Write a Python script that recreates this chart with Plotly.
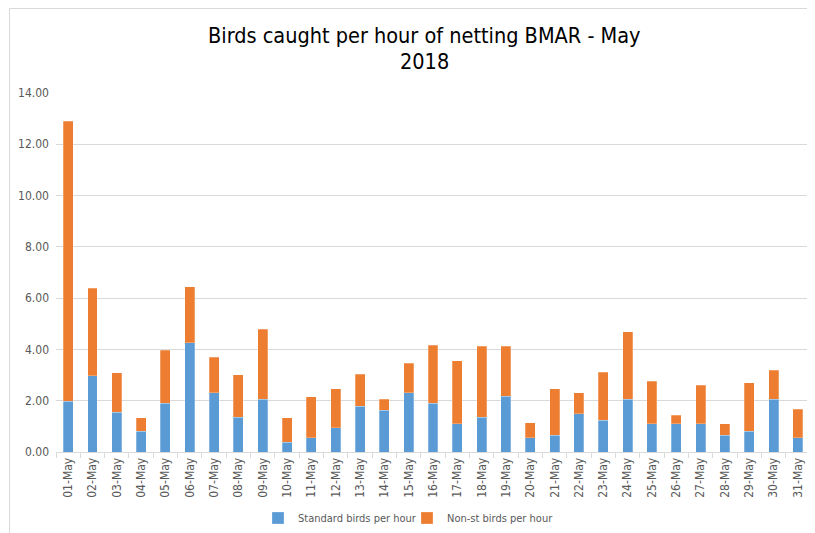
import plotly.graph_objects as go

days = ["01-May", "02-May", "03-May", "04-May", "05-May", "06-May", "07-May", "08-May",
        "09-May", "10-May", "11-May", "12-May", "13-May", "14-May", "15-May", "16-May",
        "17-May", "18-May", "19-May", "20-May", "21-May", "22-May", "23-May", "24-May",
        "25-May", "26-May", "27-May", "28-May", "29-May", "30-May", "31-May"]

standard = [1.97, 2.97, 1.55, 0.81, 1.90, 4.26, 2.31, 1.35, 2.05, 0.39,
            0.55, 0.94, 1.79, 1.63, 2.31, 1.91, 1.10, 1.35, 2.18, 0.55,
            0.65, 1.49, 1.23, 2.05, 1.10, 1.10, 1.10, 0.65, 0.81, 2.05, 0.55]

totals = [12.90, 6.39, 3.10, 1.34, 3.97, 6.45, 3.69, 3.01, 4.78, 1.34,
          2.16, 2.47, 3.03, 2.05, 3.46, 4.17, 3.56, 4.12, 4.12, 1.14,
          2.47, 2.31, 3.11, 4.69, 2.76, 1.44, 2.60, 1.10, 2.71, 3.19, 1.66]

non_standard = [round(t - s, 2) for t, s in zip(totals, standard)]

y_ticks = [0, 2, 4, 6, 8, 10, 12, 14]
y_tick_labels = ["0.00", "2.00", "4.00", "6.00", "8.00", "10.00", "12.00", "14.00"]

title_line1 = "Birds caught per hour of netting BMAR - May"
title_line2 = "2018"

FONT = "DejaVu Sans Condensed, Liberation Sans Narrow, Arial Narrow, sans-serif"
GRAY = "#595959"

fig = go.Figure()
fig.add_trace(go.Bar(x=days, y=standard, name="Standard birds per hour", legend="legend",
                     marker=dict(color="#5B9BD5", line=dict(color="rgba(255,255,255,0.5)", width=0.5))))
fig.add_trace(go.Bar(x=days, y=non_standard, name="Non-st birds per hour", legend="legend2",
                     marker=dict(color="#ED7D31", line=dict(color="rgba(255,255,255,0.5)", width=0.5))))

# page body has an 8px margin; figure placed at (8, 8) in the screenshot
OFF = 8
W, H = 807, 525
L, T = 48, 85
pw, ph = 754, 359
R = W - L - pw
B = H - T - ph

def px_x(p):
    return (p - OFF - L) / pw

def px_y(p):
    return (OFF + T + ph - p) / ph

leg_common = dict(orientation="h", xanchor="left", yanchor="middle", y=px_y(518),
                  font=dict(size=11, color=GRAY), itemwidth=30, bgcolor="rgba(0,0,0,0)",
                  borderwidth=0)

fig.update_layout(
    width=W, height=H,
    barmode="stack",
    bargap=0.59,
    plot_bgcolor="white",
    paper_bgcolor="white",
    margin=dict(l=L, r=R, t=T, b=B, pad=0, autoexpand=False),
    font=dict(family=FONT, color=GRAY, size=12),
    showlegend=True,
    legend=dict(x=px_x(258), **leg_common),
    legend2=dict(x=px_x(407), **leg_common),
    xaxis=dict(type="category", tickangle=-90, tickfont=dict(size=12, color=GRAY),
               showline=True, linecolor="#D9D9D9", linewidth=1,
               ticks="outside", tickson="boundaries", ticklen=5, tickcolor="#D9D9D9",
               showgrid=False, fixedrange=True, automargin=False),
    yaxis=dict(range=[0, 14], tickvals=y_ticks, ticktext=y_tick_labels,
               tickfont=dict(size=12, color=GRAY), showgrid=True, gridcolor="#D9D9D9",
               gridwidth=1, zeroline=False, showline=False, ticks="", ticklabelstandoff=6,
               automargin=False),
    annotations=[
        dict(text=title_line1, x=px_x(424), y=px_y(35), xref="paper", yref="paper",
             showarrow=False, xanchor="center", yanchor="middle",
             font=dict(family=FONT, size=21.5, color="#000000")),
        dict(text=title_line2, x=px_x(424), y=px_y(62), xref="paper", yref="paper",
             showarrow=False, xanchor="center", yanchor="middle",
             font=dict(family=FONT, size=21.5, color="#000000")),
    ],
    shapes=[dict(type="rect", xref="paper", yref="paper",
                 x0=px_x(9.5), x1=px_x(840), y0=px_y(560), y1=px_y(8.5),
                 line=dict(color="#D9D9D9", width=1), fillcolor="rgba(0,0,0,0)", layer="below")],
)

fig.write_html("out.html")
